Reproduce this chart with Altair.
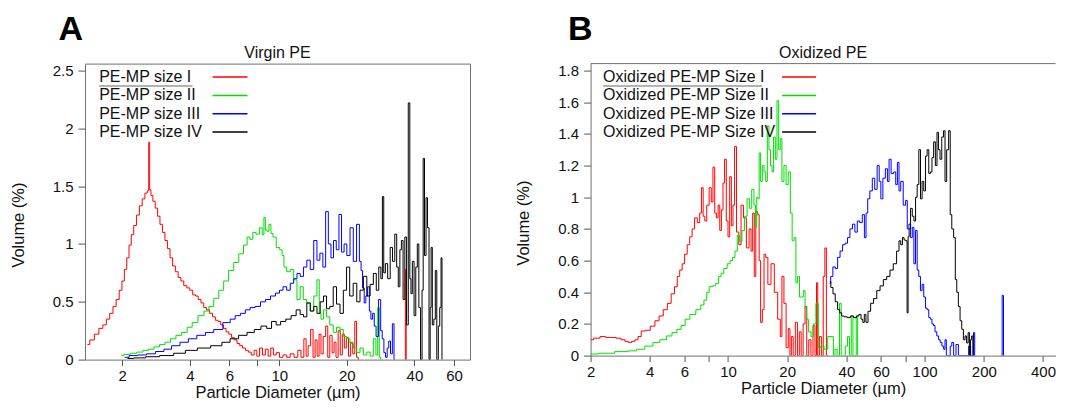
import math
import altair as alt
import pandas as pd

NAN = float("nan")
FONT = "Liberation Sans"
COLORS = ["#ff0000", "#00e000", "#0000ff", "#000000"]
XTITLE = "Particle Diameter (µm)"
YTITLE = "Volume (%)"

# ---------------- Panel A : Virgin PE ----------------
A_LETTER = "A"
A_TITLE = "Virgin PE"
A_LABELS = ["PE-MP size I", "PE-MP size II", "PE-MP size III", "PE-MP size IV"]
A_XTICKS = [2, 4, 6, 8, 10, 20, 40, 60]
A_XHIDE = [8]
A_YTICKS = [0, 0.5, 1, 1.5, 2, 2.5]
A_XDOMAIN = [1.366, 70.7]
A_YDOMAIN = [0, 2.56]

A_SIZE1 = [(1.40,0.13),(1.47,0.17),(1.54,0.22),(1.61,0.27),(1.67,0.30),(1.73,0.35),(1.79,0.40),(1.85,0.46),
           (1.91,0.52),(1.97,0.60),(2.02,0.68),(2.07,0.78),(2.12,0.88),(2.17,0.99),(2.22,1.08),(2.28,1.16),
           (2.35,1.25),(2.42,1.33),(2.49,1.39),(2.56,1.44),(2.61,1.46),(2.64,1.88),(2.66,1.47),(2.71,1.42),
           (2.77,1.37),(2.84,1.31),(2.91,1.24),(2.98,1.17),(3.06,1.10),(3.14,1.03),(3.22,0.96),(3.31,0.88),
           (3.40,0.81),(3.50,0.76),(3.60,0.71),(3.70,0.68),(3.82,0.64),(3.94,0.62),(4.06,0.60),(4.18,0.56),
           (4.30,0.55),(4.42,0.52),(4.55,0.49),(4.68,0.45),(4.82,0.43),(4.98,0.40),(5.12,0.37),(5.27,0.34),
           (5.42,0.33),(5.57,0.30),(5.72,0.27),(5.88,0.24),(6.05,0.22),(6.22,0.19),(6.40,0.17),(6.58,0.14),
           (6.77,0.12),(6.97,0.10),(7.18,0.08),(7.40,0.065),(7.62,0.04),(7.85,0.08),(8.05,0.03),(8.30,0.10),
           (8.55,0.04),(8.80,0.09),(9.05,0.03),(9.30,0.10),(9.55,0.04),(9.85,0.06),(10.2,0.02),(10.6,0.04),
           (11.0,0.02),(11.4,0.05),(11.9,0.02),(12.3,0.08),(12.7,0.02),(13.05,0.18),(13.3,0.03),(13.6,0.12),
           (14.0,0.26),(14.3,0.02),(14.6,0.17),(14.9,0.03),(15.2,0.22),(15.5,0.05),(15.9,0.20),(16.3,0.29),
           (16.6,0.02),(17.0,0.21),(17.4,0.06),(17.7,0.15),(18.1,0.02),(18.5,0.25),(18.9,0.04),(19.3,0.22),
           (19.7,0.10),(20.1,0.19),(20.6,0.03),(21.0,0.15),(21.5,0.05),(21.9,0.33),(22.3,0.02),(22.7,0.0),
           (NAN,NAN),(36.3,0.0),(36.6,0.78),(36.9,0.0)]

A_SIZE2 = [(1.98,0.037),(2.10,0.045),(2.25,0.055),(2.40,0.065),(2.55,0.08),(2.69,0.09),(2.85,0.11),(3.02,0.13),
           (3.19,0.15),(3.37,0.18),(3.57,0.21),(3.79,0.235),(4.0,0.28),(4.2,0.32),(4.5,0.38),(4.75,0.42),
           (4.98,0.46),(5.25,0.53),(5.52,0.60),(5.80,0.68),(6.11,0.77),(6.45,0.84),(6.77,0.915),(7.1,0.99),
           (7.3,1.06),(7.51,1.04),(7.75,1.10),(8.03,1.085),(8.3,1.14),(8.5,1.08),(8.6,1.23),(8.75,1.12),
           (8.9,1.11),(9.1,1.17),(9.27,1.09),(9.5,1.06),(9.9,0.97),(10.2,0.95),(10.4,0.90),(10.6,0.80),
           (11.0,0.76),(11.4,0.78),(11.8,0.69),(12.2,0.52),(12.6,0.63),(13.0,0.52),(13.5,0.49),(14.0,0.42),
           (14.5,0.55),(14.95,0.69),(15.2,0.40),(15.5,0.35),(16.0,0.43),(16.5,0.37),(17.1,0.30),(17.7,0.235),
           (18.3,0.28),(19.0,0.26),(19.6,0.20),(20.3,0.18),(21.0,0.14),(21.8,0.10),(22.5,0.06),(23.3,0.10),
           (24.1,0.04),(25.0,0.065),(25.8,0.03),(26.7,0.18),(27.2,0.04),(27.7,0.45),(28.1,0.02),(28.5,0.0)]

A_SIZE3 = [(2.05,0.02),(2.25,0.035),(2.45,0.04),(2.69,0.05),(2.95,0.07),(3.19,0.09),(3.45,0.12),(3.79,0.15),
           (4.1,0.18),(4.5,0.21),(4.9,0.235),(5.33,0.26),(5.91,0.32),(6.2,0.35),(6.54,0.38),(6.9,0.40),
           (7.24,0.43),(7.6,0.45),(8.03,0.46),(8.5,0.50),(8.9,0.52),(9.4,0.55),(9.86,0.575),(10.2,0.60),
           (10.6,0.63),(11.0,0.60),(11.4,0.66),(11.8,0.70),(12.2,0.745),(12.6,0.72),(13.05,0.80),(13.5,0.86),
           (14.0,0.78),(14.5,1.03),(14.95,0.86),(15.4,0.92),(15.9,0.80),(16.3,1.28),(16.8,1.0),(17.2,0.88),
           (17.7,1.03),(18.2,0.95),(18.7,1.255),(19.2,0.93),(19.7,1.0),(20.3,0.90),(21.05,1.14),(21.7,0.85),
           (22.5,1.17),(23.0,0.85),(23.3,0.77),(23.7,0.62),(24.1,0.49),(24.5,0.55),(25.0,0.63),(25.4,0.42),
           (25.8,0.35),(26.3,0.40),(26.7,0.29),(27.3,0.20),(28.1,0.52),(28.5,0.25),(29.0,0.18),(29.5,0.06),
           (30.0,0.02),(30.5,0.10),(31.0,0.16),(31.6,0.05),(32.2,0.31),(32.7,0.0)]

A_SIZE4 = [(2.11,0.01),(2.4,0.015),(2.7,0.025),(3.19,0.035),(3.6,0.055),(4.06,0.08),(4.6,0.10),(5.33,0.12),
           (5.8,0.15),(6.3,0.18),(6.9,0.21),(7.5,0.235),(8.0,0.26),(8.6,0.29),(9.0,0.27),(9.5,0.33),
           (9.9,0.30),(10.4,0.33),(11.0,0.35),(11.6,0.38),(12.2,0.43),(12.6,0.39),(13.05,0.37),(13.5,0.49),
           (14.0,0.42),(14.5,0.46),(14.95,0.40),(15.5,0.50),(16.0,0.55),(16.5,0.44),(17.1,0.46),(17.7,0.63),
           (18.3,0.48),(19.0,0.40),(19.6,0.60),(20.3,0.80),(20.9,0.55),(21.8,0.66),(22.5,0.50),(23.3,0.60),
           (24.1,0.72),(25.0,0.55),(25.8,0.65),(26.7,0.745),(27.4,0.60),(28.1,0.80),(28.6,0.70),(29.0,1.41),
           (29.4,0.75),(30.0,0.83),(30.8,0.70),(31.6,0.97),(32.3,0.85),(33.1,1.085),(33.6,0.80),(34.2,0.63),
           (34.7,0.95),(35.3,1.03),(35.9,0.52),(36.6,1.06),(37.2,0.30),(37.9,2.22),(38.4,0.70),(38.8,0.57),
           (39.5,0.85),(40.2,0.38),(40.9,0.80),(41.5,1.0),(42.2,0.45),(43.0,0.0),(43.5,0.60),(44.0,1.74),
           (44.7,0.90),(45.4,1.40),(46.1,1.14),(46.8,0.0),(47.2,0.45),(47.7,0.97),(48.4,0.30),(49.2,0.35),
           (49.9,0.77),(50.7,0.0),(51.5,0.29),(52.2,0.45),(52.9,0.88),(53.2,0.0)]

# ---------------- Panel B : Oxidized PE ----------------
B_LETTER = "B"
B_TITLE = "Oxidized PE"
B_LABELS = ["Oxidized PE-MP Size I", "Oxidized PE-MP Size II", "Oxidized PE-MP Size III", "Oxidized PE-MP Size IV"]
B_XTICKS = [2, 4, 6, 8, 10, 20, 40, 60, 80, 100, 200, 400]
B_XHIDE = [8, 80]
B_YTICKS = [0, 0.2, 0.4, 0.6, 0.8, 1, 1.2, 1.4, 1.6, 1.8]
B_XDOMAIN = [2, 463.7]
B_YDOMAIN = [0, 1.844]

B_SIZE1 = [(2.0,0.10),(2.15,0.11),(2.32,0.12),(2.45,0.115),(2.61,0.114),(2.78,0.11),(2.93,0.10),(3.05,0.09),
           (3.16,0.083),(3.3,0.09),(3.42,0.10),(3.55,0.12),(3.69,0.155),(3.9,0.16),(4.15,0.186),(4.35,0.22),
           (4.57,0.25),(4.8,0.29),(5.03,0.33),(5.25,0.39),(5.44,0.435),(5.6,0.50),(5.76,0.54),(5.93,0.58),
           (6.10,0.64),(6.3,0.70),(6.47,0.75),(6.66,0.80),(6.86,0.87),(7.1,0.84),(7.25,0.90),(7.40,1.06),
           (7.55,0.88),(7.69,0.85),(7.9,0.95),(8.14,1.06),(8.3,0.97),(8.47,1.19),(8.65,0.90),(8.81,0.87),
           (9.0,0.95),(9.16,0.79),(9.35,0.92),(9.51,1.09),(9.70,1.24),(9.9,0.85),(10.1,0.75),(10.3,1.13),
           (10.5,0.82),(10.7,0.95),(10.9,1.32),(11.2,0.78),(11.5,0.70),(11.8,0.95),(12.2,0.87),(12.6,0.68),
           (13.0,0.80),(13.2,0.66),(13.5,0.90),(13.7,0.50),(14.0,0.91),(14.3,0.89),(14.5,0.60),(14.8,0.21),
           (15.1,0.29),(15.4,0.64),(15.7,0.62),(16.2,0.45),(16.9,0.58),(17.5,0.40),(18.3,0.23),(18.6,0.12),
           (19.0,0.50),(19.5,0.33),(20.0,0.05),(20.5,0.17),(20.8,0.0),(21.2,0.12),(21.7,0.0),(22.3,0.21),
           (22.8,0.0),(23.3,0.15),(23.8,0.0),(24.4,0.20),(24.9,0.31),(25.4,0.0),(26.1,0.10),(26.7,0.0),
           (27.4,0.19),(28.0,0.0),(28.4,0.46),(28.8,0.0),(29.5,0.12),(30.2,0.0),(30.8,0.50),(31.4,0.68),
           (31.9,0.0),(32.4,0.0)]

B_SIZE2 = [(2.0,0.01),(2.4,0.015),(2.93,0.025),(3.3,0.03),(3.56,0.04),(4.0,0.06),(4.31,0.083),(4.7,0.10),
           (5.03,0.124),(5.35,0.145),(5.65,0.166),(5.9,0.19),(6.2,0.23),(6.6,0.26),(7.13,0.29),(7.4,0.32),
           (7.69,0.35),(7.9,0.40),(8.14,0.435),(8.5,0.44),(8.81,0.456),(9.1,0.50),(9.34,0.52),(9.7,0.55),
           (10.1,0.58),(10.4,0.60),(10.7,0.62),(11.0,0.66),(11.3,0.76),(11.6,0.72),(11.95,0.79),(12.3,0.88),
           (12.7,0.99),(13.0,0.93),(13.4,1.05),(13.7,0.95),(13.9,0.81),(14.1,1.0),(14.3,0.99),(14.5,1.28),
           (14.8,1.10),(15.1,1.20),(15.4,1.16),(15.7,1.10),(16.0,1.45),(16.3,1.30),(16.6,1.20),(16.9,1.16),
           (17.2,1.38),(17.6,1.24),(17.9,1.61),(18.3,1.30),(18.6,1.37),(19.0,1.10),(19.5,1.20),(20.0,1.08),
           (20.5,1.16),(21.0,0.90),(21.4,0.725),(22.0,0.745),(22.3,0.46),(22.8,0.50),(23.4,0.37),(23.9,0.37),
           (24.4,0.41),(24.9,0.30),(25.3,0.23),(26.0,0.15),(26.9,0.12),(27.6,0.20),(28.4,0.33),(29.2,0.05),
           (30.1,0.06),(31.5,0.04),(32.8,0.12),(34.0,0.12),(34.7,0.0),(35.3,0.04),(36.5,0.0),(37.3,0.33),
           (38.0,0.0),(39.0,0.0),(40.0,0.06),(41.1,0.12),(41.9,0.0),(42.8,0.25),(43.6,0.0),(44.5,0.0),
           (45.3,0.25),(46.0,0.0)]

B_SIZE3 = [(32.9,0.456),(33.7,0.50),(34.6,0.56),(35.6,0.55),(36.6,0.62),(37.7,0.66),(38.8,0.70),(40.0,0.71),
           (41.1,0.745),(42.3,0.80),(43.6,0.83),(44.8,0.78),(46.1,0.85),(47.5,0.84),(48.9,0.89),(49.9,0.745),
           (50.8,0.90),(51.9,0.99),(53.4,1.04),(55.0,1.12),(56.5,1.05),(58.2,1.20),(59.3,1.10),(60.5,0.99),
           (62.2,1.12),(64.1,1.18),(65.3,1.10),(66.6,1.24),(68.5,1.15),(70.6,1.16),(72.0,1.08),(73.4,1.22),
           (74.8,1.04),(76.4,1.10),(79.3,0.95),(80.8,0.98),(82.4,0.80),(84.0,0.83),(85.7,0.745),(87.4,0.81),
           (89.0,0.58),(90.8,0.79),(92.5,0.54),(94.3,0.50),(96.2,0.41),(98.0,0.45),(100,0.37),(102,0.30),
           (104,0.29),(106,0.24),(108,0.23),(110,0.20),(112,0.19),(114,0.15),(116.7,0.124),(119,0.10),
           (121,0.083),(124,0.06),(126,0.04),(128,0.10),(130,0.0),(134,0.0),(136,0.06),(139,0.083),
           (142,0.0),(147,0.07),(150,0.0),(165,0.0),(170,0.06),(173,0.0),(176,0.0),(178.6,0.145),
           (181,0.0),(NAN,NAN),(246,0.0),(250,0.38),(254,0.0)]

B_SIZE4 = [(32.9,0.466),(33.8,0.43),(34.6,0.39),(35.6,0.34),(36.6,0.29),(37.4,0.27),(38.3,0.25),(39.6,0.245),
           (41.1,0.24),(42.7,0.25),(44.4,0.24),(45.7,0.25),(47.0,0.26),(48.0,0.23),(48.9,0.21),(49.8,0.26),
           (50.8,0.21),(52.3,0.28),(54.0,0.33),(56.0,0.36),(58.2,0.41),(60.5,0.44),(62.9,0.48),(65.4,0.50),
           (67.9,0.54),(70.7,0.58),(73.4,0.66),(74.8,0.725),(76.4,0.70),(77.9,0.745),(79.3,0.73),(80.9,0.725),
           (82.0,0.27),(82.8,0.75),(84.0,0.80),(85.7,0.93),(87.4,0.88),(89.1,0.85),(90.8,1.0),(92.5,1.08),
           (94.4,1.30),(96.2,0.99),(98.0,1.10),(100,1.04),(102,1.26),(104,1.30),(106,1.15),(108,1.16),
           (110,1.25),(112.3,1.35),(114.5,1.20),(116.7,1.41),(118.5,1.30),(121,1.24),(123.5,1.38),(126,1.42),
           (128,1.10),(131,1.30),(134,1.42),(136,0.89),(139,0.80),(142,0.745),(144.5,0.48),(147,0.40),
           (150,0.31),(153,0.22),(156,0.166),(159,0.10),(162,0.124),(165,0.08),(168,0.145),(170,0.0),
           (172,0.10),(175,0.124),(177,0.0)]

FRAME = "#707070"


def series_frame(labels, series):
    rows = []
    for lab, pairs in zip(labels, series):
        seg = 0
        for x, y in pairs:
            if math.isnan(x):
                seg += 1
                continue
            rows.append({"x": x, "y": y, "series": lab, "seg": f"{lab}#{seg}"})
    return pd.DataFrame(rows)


def panel(letter, letter_x, title, labels, series, xdom, ydom, xticks, xhide, yticks,
          width, height, ytitle_y, legend_x, sample_x, sep_x2, open_right):
    df = series_frame(labels, series)
    hide = ",".join(str(v) for v in xhide)
    x_axis = alt.Axis(values=xticks, labelExpr=f"indexof([{hide}], datum.value) >= 0 ? '' : '' + datum.value",
                      title=XTITLE, grid=False, domain=open_right, domainColor=FRAME, tickSize=6,
                      tickColor="#555555", labelPadding=3, labelFont=FONT, labelFontSize=15,
                      labelColor="#111111", labelOverlap=False, labelFlush=False,
                      titleFont=FONT, titleFontSize=16.5, titleFontWeight="normal", titleColor="#111111",
                      titleY=25)
    y_axis = alt.Axis(values=yticks, labelExpr="'' + datum.value", title=YTITLE, grid=False,
                      domain=open_right, domainColor=FRAME,
                      tickSize=7, tickColor="#555555", labelPadding=5, labelFont=FONT, labelFontSize=15,
                      labelColor="#111111", labelOverlap=False,
                      titleFont=FONT, titleFontSize=16.5, titleFontWeight="normal", titleColor="#111111",
                      titleX=-59, titleY=ytitle_y)
    lines = alt.Chart(df).mark_line(interpolate="step", strokeWidth=1, clip=True).encode(
        x=alt.X("x:Q", scale=alt.Scale(type="log", domain=xdom, nice=False), axis=x_axis),
        y=alt.Y("y:Q", scale=alt.Scale(domain=ydom, nice=False, zero=False), axis=y_axis),
        color=alt.Color("series:N", scale=alt.Scale(domain=labels, range=COLORS), legend=None),
        detail="seg:N",
    )
    layers = [lines]
    one = pd.DataFrame({"t": [letter]})
    if open_right:
        layers.append(alt.Chart(one).mark_rule(color=FRAME, strokeWidth=1).encode(
            x=alt.value(0), x2=alt.value(width), y=alt.value(0)))
    layers.append(alt.Chart(one).mark_text(align="left", baseline="alphabetic", font=FONT, fontSize=34,
                                           fontWeight="bold", color="#000000").encode(
        text="t:N", x=alt.value(letter_x), y=alt.value(-24)))
    tdf = pd.DataFrame({"t": [title]})
    layers.append(alt.Chart(tdf).mark_text(align="center", baseline="alphabetic", font=FONT, fontSize=16,
                                           color="#111111").encode(
        text="t:N", x=alt.value(width / 2), y=alt.value(-6)))
    for i, (lab, col) in enumerate(zip(labels, COLORS)):
        ly = 13.5 + 18.3 * i
        ldf = pd.DataFrame({"t": [lab]})
        layers.append(alt.Chart(ldf).mark_text(align="left", baseline="middle", font=FONT, fontSize=16,
                                               color="#111111").encode(
            text="t:N", x=alt.value(legend_x), y=alt.value(ly)))
        layers.append(alt.Chart(ldf).mark_rule(color=col, strokeWidth=1.5).encode(
            x=alt.value(sample_x[0]), x2=alt.value(sample_x[1]), y=alt.value(ly)))
    layers.append(alt.Chart(one).mark_rule(color="#666666", strokeWidth=1).encode(
        x=alt.value(legend_x), x2=alt.value(sep_x2), y=alt.value(22.4)))
    props = dict(width=width, height=height)
    if open_right:
        props["view"] = alt.ViewBackground(stroke="transparent")
    return alt.layer(*layers).properties(**props)


panel_a = panel(A_LETTER, -26.5, A_TITLE, A_LABELS, [A_SIZE1, A_SIZE2, A_SIZE3, A_SIZE4],
                A_XDOMAIN, A_YDOMAIN, A_XTICKS, A_XHIDE, A_YTICKS,
                385, 296, 161, 14.2, (127.5, 162.5), 107.5, False)
panel_b = panel(B_LETTER, -22.5, B_TITLE, B_LABELS, [B_SIZE1, B_SIZE2, B_SIZE3, B_SIZE4],
                B_XDOMAIN, B_YDOMAIN, B_XTICKS, B_XHIDE, B_YTICKS,
                465, 292, 159, 12.5, (191.5, 225.5), 171.5, True)

chart = alt.hconcat(panel_a, panel_b, spacing=43.6).properties(
    padding={"left": 1, "top": 3.6, "right": 0, "bottom": 0},
    background="white",
).configure_view(stroke=FRAME, strokeWidth=1)

chart.save("out.html", embed_options={"renderer": "svg", "actions": False})
